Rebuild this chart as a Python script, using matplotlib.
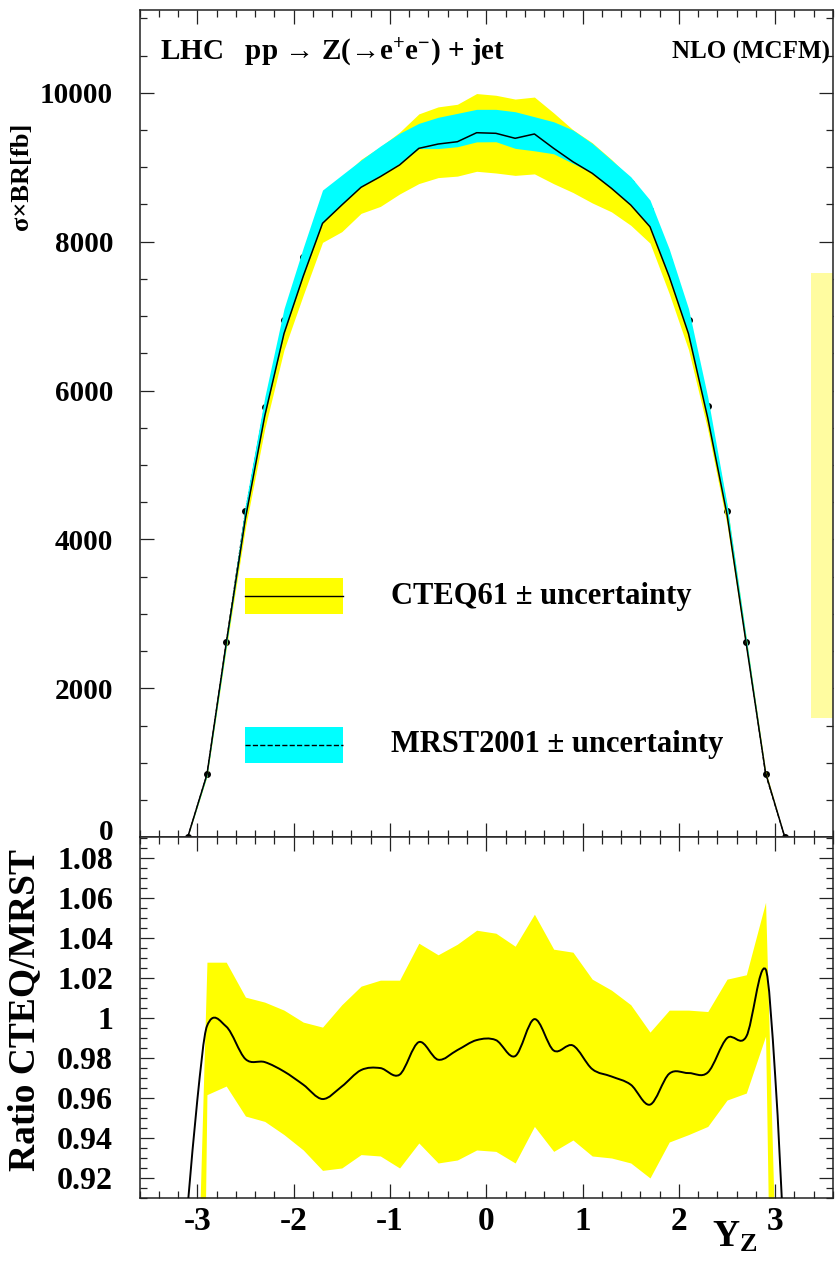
"""Z(->ee)+jet rapidity distribution at the LHC, CTEQ61 vs MRST2001, with ratio pad."""
import numpy as np
import matplotlib
matplotlib.use("Agg")
import matplotlib.pyplot as plt
from matplotlib.patches import Rectangle, PathPatch
from matplotlib.path import Path
from matplotlib.lines import Line2D
from matplotlib.ticker import MultipleLocator, FormatStrFormatter, FuncFormatter

plt.rcParams["font.family"] = ["Liberation Serif", "DejaVu Serif"]
plt.rcParams["font.weight"] = "bold"
plt.rcParams["mathtext.fontset"] = "custom"
plt.rcParams["mathtext.rm"] = "Liberation Serif:bold"
plt.rcParams["mathtext.bf"] = "Liberation Serif:bold"
plt.rcParams["mathtext.it"] = "Liberation Serif:bold:italic"
plt.rcParams["axes.unicode_minus"] = False

# ---- upper pad: sigma x BR [fb] vs Y_Z ----
y_top = [-3.1, -2.9, -2.7, -2.5, -2.3, -2.1, -1.9, -1.7, -1.5, -1.3, -1.1, -0.9,
         -0.7, -0.5, -0.3, -0.1, 0.1, 0.3, 0.5, 0.7, 0.9, 1.1, 1.3, 1.5, 1.7,
         1.9, 2.1, 2.3, 2.5, 2.7, 2.9, 3.1]
cteq = [0, 843, 2606, 4286, 5658, 6765, 7537, 8246, 8492, 8730, 8873, 9030,
        9253, 9311, 9342, 9463, 9455, 9388, 9446, 9253, 9073, 8918, 8716, 8492,
        8200, 7529, 6762, 5629, 4332, 2594, 867, 0]
cteq_up = [0, 870, 2690, 4422, 5831, 6979, 7781, 8555, 8852, 9106, 9274, 9470,
           9716, 9810, 9845, 9989, 9966, 9915, 9942, 9729, 9503, 9329, 9104, 8844,
           8511, 7775, 6981, 5805, 4461, 2675, 895, 0]
cteq_lo = [0, 814, 2528, 4162, 5486, 6546, 7282, 7990, 8134, 8380, 8473, 8640,
           8780, 8860, 8880, 8945, 8922, 8890, 8910, 8778, 8660, 8520, 8400, 8220,
           7980, 7300, 6548, 5472, 4197, 2520, 838, 0]
mrst = [0, 846, 2617, 4376, 5785, 6951, 7797, 8500, 8793, 8963, 9101, 9293,
        9400, 9460, 9520, 9568, 9560, 9550, 9500, 9410, 9199, 9151, 8978, 8785,
        8420, 7744, 6953, 5786, 4376, 2618, 846, 0]
mrst_up = [0, 865, 2675, 4470, 5910, 7100, 7920, 8693, 8895, 9096, 9284, 9455,
           9589, 9670, 9723, 9777, 9777, 9745, 9678, 9610, 9499, 9320, 9096, 8872,
           8559, 7900, 7100, 5910, 4470, 2675, 865, 0]
mrst_lo = [0, 825, 2560, 4290, 5660, 6770, 7545, 8255, 8500, 8740, 8890, 9050,
           9250, 9250, 9275, 9340, 9342, 9253, 9220, 9180, 9050, 8925, 8720, 8500,
           8210, 7535, 6770, 5635, 4335, 2595, 850, 0]

# ---- lower pad: CTEQ / MRST ratio ----
y_ratio = [-3.1, -3.0, -2.9, -2.7, -2.5, -2.3, -2.1, -1.9, -1.7, -1.5, -1.3, -1.1,
           -0.9, -0.7, -0.5, -0.3, -0.1, 0.1, 0.3, 0.5, 0.7, 0.9, 1.1, 1.3, 1.5,
           1.7, 1.9, 2.1, 2.3, 2.5, 2.7, 2.9, 3.0, 3.1]
ratio = [0.906, 0.959, 0.996, 0.9958, 0.9795, 0.978, 0.9733, 0.9667, 0.9595,
         0.9658, 0.974, 0.975, 0.9717, 0.988, 0.9792, 0.984, 0.989, 0.989, 0.981,
         0.9995, 0.9838, 0.9863, 0.9745, 0.9708, 0.9667, 0.9567, 0.9722, 0.9725,
         0.9728, 0.990, 0.9908, 1.0245, 0.971, 0.88]
y_band = [-3.0, -2.9, -2.7, -2.5, -2.3, -2.1, -1.9, -1.7, -1.5, -1.3, -1.1, -0.9,
          -0.7, -0.5, -0.3, -0.1, 0.1, 0.3, 0.5, 0.7, 0.9, 1.1, 1.3, 1.5, 1.7,
          1.9, 2.1, 2.3, 2.5, 2.7, 2.9, 3.0]
ratio_up = [0.86, 1.028, 1.028, 1.0105, 1.008, 1.004, 0.998, 0.9955, 1.0067,
            1.016, 1.019, 1.019, 1.0375, 1.0317, 1.037, 1.044, 1.0425, 1.036,
            1.052, 1.0345, 1.033, 1.0195, 1.014, 1.0067, 0.993, 1.004, 1.004,
            1.0033, 1.0195, 1.0217, 1.058, 0.885]
ratio_lo = [0.60, 0.9617, 0.966, 0.951, 0.9483, 0.9417, 0.934, 0.9238, 0.925,
            0.9317, 0.931, 0.925, 0.9375, 0.9275, 0.929, 0.934, 0.9333, 0.9275,
            0.9458, 0.9333, 0.939, 0.931, 0.930, 0.9275, 0.920, 0.938, 0.9417,
            0.9458, 0.959, 0.9625, 0.991, 0.69]

YELLOW = "#ffff00"
CYAN = "#00ffff"
FRAME = "#222222"


def smooth_path(x, y):
    """Cubic Hermite curve through the points, as Bezier segments (like ROOT's "C")."""
    x = np.asarray(x, float)
    y = np.asarray(y, float)
    m = np.empty_like(y)
    m[1:-1] = (y[2:] - y[:-2]) / (x[2:] - x[:-2])
    m[0] = (y[1] - y[0]) / (x[1] - x[0])
    m[-1] = (y[-1] - y[-2]) / (x[-1] - x[-2])
    verts = [(x[0], y[0])]
    codes = [Path.MOVETO]
    for i in range(len(x) - 1):
        h = x[i + 1] - x[i]
        verts += [(x[i] + h / 3, y[i] + m[i] * h / 3),
                  (x[i + 1] - h / 3, y[i + 1] - m[i + 1] * h / 3),
                  (x[i + 1], y[i + 1])]
        codes += [Path.CURVE4] * 3
    return Path(verts, codes)


def style_axes(ax):
    for spine in ax.spines.values():
        spine.set_linewidth(1.1)
        spine.set_color(FRAME)
    ax.tick_params(which="both", direction="in", top=True, right=True,
                   color=FRAME, width=0.9)
    ax.tick_params(which="major", length=10)
    ax.tick_params(which="minor", length=5)


fig = plt.figure(figsize=(8.35, 12.61), dpi=100)
ax = fig.add_axes([0.1671, 0.336, 0.8305, 0.656])
axr = fig.add_axes([0.1671, 0.05, 0.8305, 0.286])

# upper pad
ax.plot(y_top, mrst, ls="--", color="black", lw=0.8, marker="o", ms=4,
        zorder=0.5)
ax.fill_between(y_top, cteq_lo, cteq_up, color=YELLOW, lw=0, zorder=1)
ax.fill_between(y_top, mrst_lo, mrst_up, color=CYAN, lw=0, zorder=1.2)
ax.plot(y_top, cteq, color="black", lw=1.1, zorder=3)

ax.set_xlim(-3.6, 3.6)
ax.set_ylim(0, 11110)
ax.xaxis.set_major_locator(MultipleLocator(1))
ax.xaxis.set_minor_locator(MultipleLocator(0.2))
ax.yaxis.set_major_locator(MultipleLocator(2000))
ax.yaxis.set_minor_locator(MultipleLocator(500))
ax.set_xticklabels([])
# the "0" is written by hand a little higher so it clears the ratio pad's "1.08"
ax.yaxis.set_major_formatter(FuncFormatter(lambda v, p: "" if v == 0 else "%d" % v))
ax.tick_params(axis="y", labelsize=21, pad=19)
style_axes(ax)
ax.annotate("0", xy=(0, 0), xycoords=("axes fraction", "data"),
            xytext=(-19, 3.5), textcoords="offset points", fontsize=21,
            ha="right", va="center", annotation_clip=False)

ax.text(0.03, 0.949, "LHC   pp \u2192 Z(\u2192e$^{+}$e$^{-}$) + jet",
        transform=ax.transAxes, fontsize=21, ha="left", va="center")
ax.text(0.995, 0.949, "NLO (MCFM)", transform=ax.transAxes, fontsize=18,
        ha="right", va="center")

# hand-placed legend boxes, as in the original
for y0, colour, ls, label in [(0.2699, YELLOW, "-", "CTEQ61 \u00b1 uncertainty"),
                              (0.0898, CYAN, "--", "MRST2001 \u00b1 uncertainty")]:
    ax.add_patch(Rectangle((0.152, y0), 0.1414, 0.0435, transform=ax.transAxes,
                           facecolor=colour, edgecolor="none", zorder=4))
    ax.add_line(Line2D([0.152, 0.2934], [y0 + 0.0218] * 2, transform=ax.transAxes,
                       color="black", lw=1.0, ls=ls, zorder=5))
    ax.text(0.3627, y0 + 0.0218, label, transform=ax.transAxes, fontsize=22,
            ha="left", va="center")

fig.text(0.026, 0.86, "\u03c3\u00d7BR[fb]", rotation=90, fontsize=19,
         ha="center", va="center")

# pale sticky strip on the right edge of the scan
ax.add_patch(Rectangle((0.9713, 0.4306), 0.0262, 0.3529, transform=fig.transFigure,
                       facecolor="#fffca0", edgecolor="none", zorder=2,
                       clip_on=False))

# ratio pad
axr.fill_between(y_band, ratio_lo, ratio_up, color=YELLOW, lw=0, zorder=1)
axr.add_patch(PathPatch(smooth_path(y_ratio, ratio), facecolor="none",
                        edgecolor="black", lw=1.4, zorder=3))
axr.set_xlim(-3.6, 3.6)
axr.set_ylim(0.91, 1.0905)
axr.xaxis.set_major_locator(MultipleLocator(1))
axr.xaxis.set_minor_locator(MultipleLocator(0.2))
axr.yaxis.set_major_locator(MultipleLocator(0.02))
axr.yaxis.set_minor_locator(MultipleLocator(0.005))
axr.xaxis.set_major_formatter(FormatStrFormatter("%g"))
axr.yaxis.set_major_formatter(FormatStrFormatter("%g"))
axr.tick_params(axis="y", labelsize=23, pad=19)
axr.tick_params(axis="x", labelsize=24, pad=6)
style_axes(axr)

axr.text(0.8255, -0.136, r"Y$_{\mathrm{Z}}$", transform=axr.transAxes,
         fontsize=27, ha="left", va="baseline")
fig.text(0.03, 0.199, "Ratio CTEQ/MRST", rotation=90, fontsize=27,
         ha="center", va="center")

fig.savefig("out.png", dpi=100)
